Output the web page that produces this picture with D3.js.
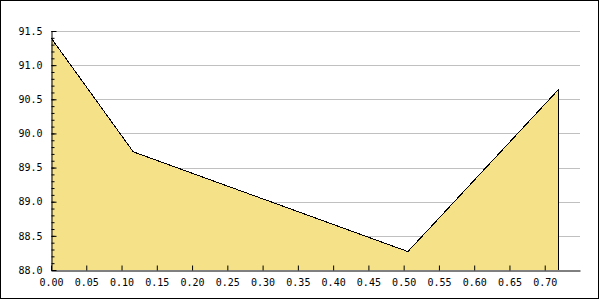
<!DOCTYPE html>
<html>
<head>
<meta charset="utf-8">
<script src="https://cdn.jsdelivr.net/npm/d3@7"></script>
<style>
  body { margin: 0; background: #fff; }
  svg { display: block; }
  .axis text { font-family: "DejaVu Sans Mono", monospace; font-size: 10px; fill: #000; }
</style>
</head>
<body>
<svg id="chart" width="600" height="300"></svg>
<script>
// data
const xValues = [0.0, 0.1167, 0.506, 0.7193];
const yValues = [91.40, 89.73, 88.27, 90.64];
const xTicks = [0, 0.05, 0.1, 0.15, 0.2, 0.25, 0.3, 0.35, 0.4, 0.45, 0.5, 0.55, 0.6, 0.65, 0.7];
const yTicks = [88.0, 88.5, 89.0, 89.5, 90.0, 90.5, 91.0, 91.5];
const yMinorTicks = d3.range(88.0, 91.5001, 0.1);

const svg = d3.select("#chart");
const plotLeft = 51, plotRight = 580, plotTop = 31, plotBottom = 270;

const xScale = d3.scaleLinear().domain([0, 0.75]).range([plotLeft, plotRight]);
const yScale = d3.scaleLinear().domain([88.0, 91.5]).range([plotBottom, plotTop]);

// outer frame
svg.append("rect")
  .attr("x", 0.5).attr("y", 0.5)
  .attr("width", 598).attr("height", 298)
  .attr("fill", "#fff").attr("stroke", "#000");

// grid
svg.append("g")
  .selectAll("line")
  .data(yTicks.filter(d => d > 88.0))
  .join("line")
  .attr("x1", plotLeft).attr("x2", plotRight)
  .attr("y1", d => Math.round(yScale(d)) + 0.5)
  .attr("y2", d => Math.round(yScale(d)) + 0.5)
  .attr("stroke", "#c0c0c0");

// area
const pts = xValues.map((x, i) => [x, yValues[i]]);
const last = xValues[xValues.length - 1];
const area = d3.area()
  .x(d => xScale(d[0]))
  .y0(yScale(88.0))
  .y1(d => yScale(d[1]));
svg.append("path")
  .datum(pts)
  .attr("d", area)
  .attr("fill", "#f5e187");

// outline: top line + right vertical drop
const outline = pts.concat([[last, 88.0]]);
svg.append("path")
  .datum(outline)
  .attr("d", d3.line().x(d => xScale(d[0])).y(d => yScale(d[1])))
  .attr("fill", "none")
  .attr("stroke", "#000")
  .attr("stroke-width", 1)
  .attr("shape-rendering", "crispEdges");

// y minor ticks
svg.append("g")
  .attr("transform", `translate(${plotLeft + 0.5},0)`)
  .call(d3.axisLeft(yScale).tickValues(yMinorTicks).tickSize(-3).tickFormat(""))
  .call(g => g.select(".domain").remove());

// y axis
svg.append("g")
  .attr("class", "axis")
  .attr("transform", `translate(${plotLeft + 0.5},0)`)
  .call(d3.axisLeft(yScale).tickValues(yTicks).tickSizeInner(-5).tickSizeOuter(0)
    .tickPadding(9).tickFormat(d3.format(".1f")));

// x axis
svg.append("g")
  .attr("class", "axis")
  .attr("transform", `translate(0,${plotBottom + 0.5})`)
  .call(d3.axisBottom(xScale).tickValues(xTicks).tickSizeInner(-5).tickSizeOuter(0)
    .tickPadding(8).tickFormat(d3.format(".2f")));

svg.selectAll(".axis path, .axis line").attr("stroke", "#000");
</script>
</body>
</html>
